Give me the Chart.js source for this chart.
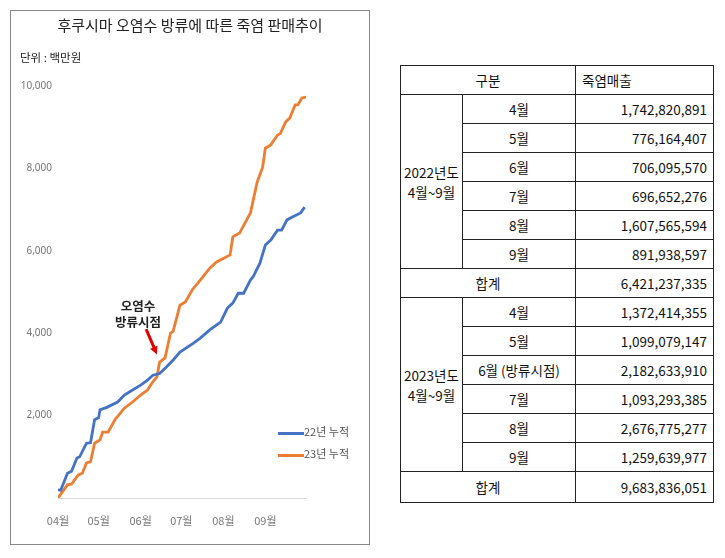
<!DOCTYPE html>
<html><head><meta charset="utf-8">
<script src="https://cdn.jsdelivr.net/npm/chart.js@4"></script>
<style>
body{margin:0;background:#fff;font-family:"Noto Sans CJK KR","Noto Sans",sans-serif;}
#box{position:absolute;left:10px;top:10px;width:358px;height:533px;border:1px solid #888;}
#box canvas{position:absolute;left:0;top:0;}
.t{position:absolute;white-space:nowrap;color:#222;}
table{position:absolute;left:400px;top:65px;border-collapse:collapse;font-size:13.5px;color:#111;white-space:nowrap;table-layout:fixed;width:313px;}
td{border:1px solid #222;height:28px;padding:0 6px;}
td.c{text-align:center}td.r{text-align:right}
</style></head><body>
<div id="box"><canvas id="c" width="358" height="533"></canvas>
<div class="t" style="left:0;width:358px;text-align:center;top:3px;font-size:15px">후쿠시마 오염수 방류에 따른 죽염 판매추이</div>
<div class="t" style="left:9px;top:38px;font-size:11.5px">단위 : 백만원</div>
<div class="t" style="left:104px;top:287px;font-size:12.5px;font-weight:bold;text-align:center;line-height:16px">오염수<br>방류시점</div>
<div class="t" style="left:267px;top:412px;font-size:11px;color:#555"><span style="display:inline-block;width:26px;height:3px;background:#4472C4;vertical-align:middle"></span>22년 누적</div>
<div class="t" style="left:267px;top:434px;font-size:11px;color:#555"><span style="display:inline-block;width:26px;height:3px;background:#ED7D31;vertical-align:middle"></span>23년 누적</div>
</div>
<table>
<colgroup><col style="width:62px"><col style="width:113px"><col style="width:138px"></colgroup>
<tr><td class="c" colspan="2">구분</td><td>죽염매출</td></tr>
<tr><td class="c" rowspan="6" style="padding:0">2022년도<br>4월~9월</td><td class="c">4월</td><td class="r">1,742,820,891</td></tr>
<tr><td class="c">5월</td><td class="r">776,164,407</td></tr>
<tr><td class="c">6월</td><td class="r">706,095,570</td></tr>
<tr><td class="c">7월</td><td class="r">696,652,276</td></tr>
<tr><td class="c">8월</td><td class="r">1,607,565,594</td></tr>
<tr><td class="c">9월</td><td class="r">891,938,597</td></tr>
<tr><td class="c" colspan="2">합계</td><td class="r">6,421,237,335</td></tr>
<tr><td class="c" rowspan="6" style="padding:0">2023년도<br>4월~9월</td><td class="c">4월</td><td class="r">1,372,414,355</td></tr>
<tr><td class="c">5월</td><td class="r">1,099,079,147</td></tr>
<tr><td class="c">6월 (방류시점)</td><td class="r">2,182,633,910</td></tr>
<tr><td class="c">7월</td><td class="r">1,093,293,385</td></tr>
<tr><td class="c">8월</td><td class="r">2,676,775,277</td></tr>
<tr><td class="c">9월</td><td class="r">1,259,639,977</td></tr>
<tr><td class="c" colspan="2" style="height:30px">합계</td><td class="r">9,683,836,051</td></tr>
</table>
<script>
// days since Apr 1
const days22 = [0,2,7,10,14,16,21,24,27,30,31,36,44,49,55,61,66,70,75,80,85,90,100,105,112,120,125,129,133,137,142,144,149,153,157,162,165,169,173,179,182];
const sales22 = [200,190,600,650,970,1000,1330,1340,1900,1950,2140,2200,2330,2500,2620,2740,2860,2980,3020,3180,3350,3540,3760,3880,4080,4270,4610,4730,4970,4970,5290,5370,5700,6140,6260,6500,6500,6750,6820,6920,7060];
const days23 = [0,7,10,15,18,21,24,27,31,33,37,42,46,49,55,61,66,70,73,75,79,83,85,90,94,99,105,112,117,127,129,134,142,147,151,153,157,162,164,168,171,175,177,180,183];
const sales23 = [0,320,340,560,600,850,880,1330,1410,1600,1600,1900,2060,2180,2330,2500,2620,2820,2940,3300,3400,4000,4050,4680,4760,5050,5290,5580,5730,5900,6340,6430,6920,7670,8030,8490,8570,8810,8840,9130,9220,9540,9540,9710,9730];
const monthDays = [0,30,61,91,122,153];
const monthLabels = ['04월','05월','06월','07월','08월','09월'];
const yTicks = [2000,4000,6000,8000,10000];

const pts = (xs, ys) => xs.map((x, i) => ({x, y: ys[i]}));

const arrow = {
  id: 'arrow',
  afterDatasetsDraw(chart) {
    const {ctx, scales: {x, y}} = chart;
    const x0 = x.getPixelForValue(65), y0 = y.getPixelForValue(4100);
    const x1 = x.getPixelForValue(73), y1 = y.getPixelForValue(3480);
    ctx.save();
    ctx.strokeStyle = ctx.fillStyle = '#e00000';
    ctx.lineWidth = 3;
    ctx.beginPath(); ctx.moveTo(x0, y0); ctx.lineTo(x1 - 2, y1 - 5); ctx.stroke();
    const a = Math.atan2(y1 - y0, x1 - x0);
    ctx.beginPath();
    ctx.moveTo(x1, y1);
    ctx.lineTo(x1 - 9 * Math.cos(a - 0.45), y1 - 9 * Math.sin(a - 0.45));
    ctx.lineTo(x1 - 9 * Math.cos(a + 0.45), y1 - 9 * Math.sin(a + 0.45));
    ctx.fill();
    ctx.restore();
  }
};

new Chart(document.getElementById('c'), {
  type: 'line',
  data: {
    datasets: [
      {label: '22년 누적', data: pts(days22, sales22), borderColor: '#4472C4', borderWidth: 2.8, pointRadius: 0},
      {label: '23년 누적', data: pts(days23, sales23), borderColor: '#ED7D31', borderWidth: 2.8, pointRadius: 0}
    ]
  },
  options: {
    responsive: false, animation: false,
    layout: {padding: {left: 7, top: 75, right: 63, bottom: 16}},
    plugins: {legend: {display: false}, tooltip: {enabled: false}},
    scales: {
      x: {
        type: 'linear', min: 0, max: 183,
        afterBuildTicks: s => { s.ticks = monthDays.map(v => ({value: v})); },
        afterFit: s => { s.height = 30; },
        ticks: {callback: (v) => monthLabels[monthDays.indexOf(v)], color: '#777', font: {size: 11, family: 'Noto Sans CJK KR'}, padding: 8, maxRotation: 0},
        grid: {display: false},
        border: {display: true, color: '#d9d9d9'}
      },
      y: {
        min: 0, max: 10000,
        afterBuildTicks: s => { s.ticks = yTicks.map(v => ({value: v})); },
        afterFit: s => { s.width = 40; },
        ticks: {color: '#777', font: {size: 10, family: 'Noto Sans'}, padding: 6, callback: v => v.toLocaleString('en-US')},
        grid: {display: false, drawTicks: false},
        border: {display: false}
      }
    }
  },
  plugins: [arrow]
});
</script>
</body></html>
